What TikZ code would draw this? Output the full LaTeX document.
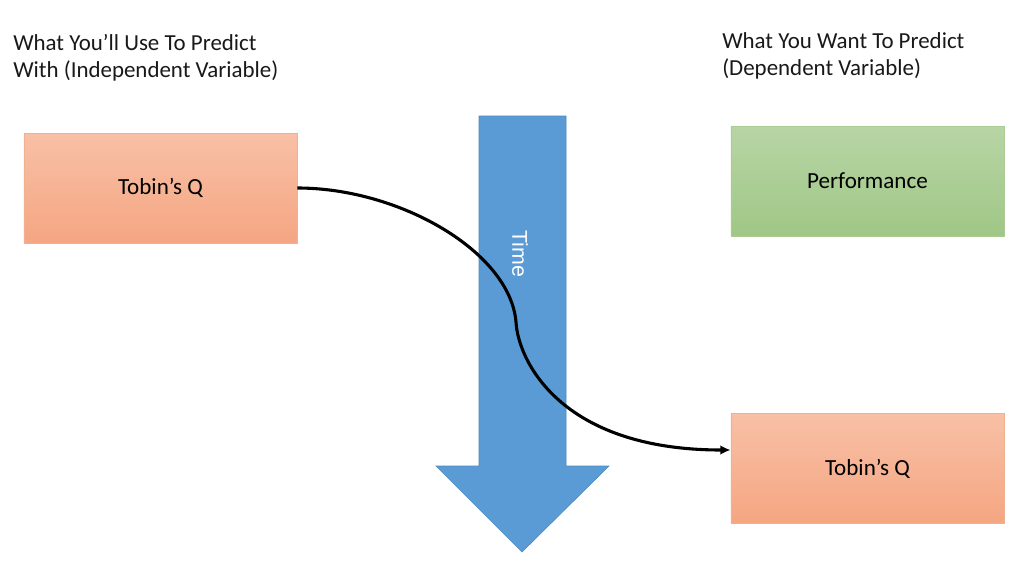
\documentclass[tikz,border=0pt]{standalone}
\usepackage{fontspec}
\setmainfont{Carlito}
\newfontfamily\timefont{Liberation Sans}
\usetikzlibrary{arrows.meta,calc}
\definecolor{tqtop}{RGB}{248,192,166}
\definecolor{tqbot}{RGB}{245,166,130}
\definecolor{tqedge}{RGB}{238,178,146}
\definecolor{pftop}{RGB}{183,213,165}
\definecolor{pfbot}{RGB}{160,199,134}
\definecolor{pfedge}{RGB}{170,204,148}
\definecolor{timeblue}{RGB}{91,155,213}
\definecolor{timeedge}{RGB}{78,136,190}
\definecolor{headink}{RGB}{25,25,25}
\tikzset{
  varbox/.style={
    line width=0.4pt, minimum width=6.825cm, minimum height=2.74cm,
    inner sep=0pt, font=\fontsize{16.4}{19}\selectfont, text=black
  },
  tobin/.style={varbox, draw=tqedge, top color=tqtop, bottom color=tqbot},
  perf/.style={varbox, draw=pfedge, top color=pftop, bottom color=pfbot},
  head/.style={
    anchor=base west, align=left, inner sep=0pt, text=headink,
    font=\fontsize{16.3}{19}\selectfont
  },
  conn/.style={-{Latex[length=2.6mm,width=2.4mm]}, draw=black, line width=2.2pt}
}
\begin{document}
\begin{tikzpicture}[x=0.025cm,y=-0.025cm]
  \useasboundingbox[fill=white] (0,0) rectangle (1024,565);
  % headings (base is the last line)
  \node[head] (hindep) at (13,77.3) {What You’ll Use To Predict\\With (Independent Variable)};
  \node[head] (hdep) at (722,75) {What You Want To Predict\\(Dependent Variable)};
  % time arrow
  \fill[timeblue, draw=timeedge, line width=0.4pt]
    (479,116) -- (566,116) -- (566,466) -- (609,466) -- (522,552)
    -- (436,466) -- (479,466) -- cycle;
  \node[rotate=-90, text=white, font=\timefont\fontsize{15.2}{18}\selectfont] (time) at (520,254) {Time};
  % variables
  \node[tobin] (tqnow) at (160.5,188) {Tobin’s Q};
  \node[perf] (perf) at (867.5,181) {Performance};
  \node[tobin] (tqlater) at (867.5,468.5) {Tobin’s Q};
  \coordinate (bend) at (516,322);
  \coordinate (hit) at ($(tqlater.west)+(0,-18.5)$);
  \draw[conn] (tqnow.east) .. controls (400,188) and (510,252) .. (bend)
    .. controls (518,360) and (560,450) .. (hit);
\end{tikzpicture}
\end{document}
